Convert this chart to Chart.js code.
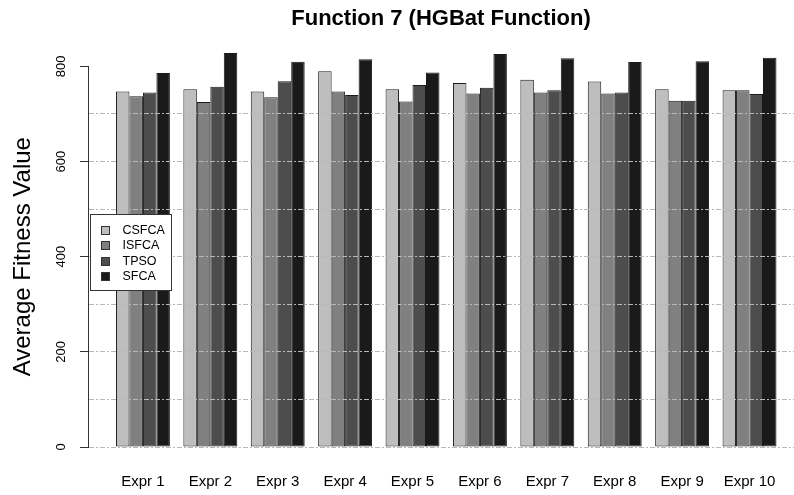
<!DOCTYPE html>
<html>
<head>
<meta charset="utf-8">
<script src="https://cdn.jsdelivr.net/npm/chart.js@4.4.1/dist/chart.umd.min.js"></script>
<style>
  html, body { margin: 0; padding: 0; background: #fff; }
  #wrap { width: 794px; height: 495px; position: relative; }
</style>
</head>
<body>
<div id="wrap"><canvas id="chart"></canvas></div>
<script>
// data
const categories = ['Expr 1', 'Expr 2', 'Expr 3', 'Expr 4', 'Expr 5', 'Expr 6', 'Expr 7', 'Expr 8', 'Expr 9', 'Expr 10'];
const seriesNames = ['CSFCA', 'ISFCA', 'TPSO', 'SFCA'];
const seriesColors = ['#bebebe', '#808080', '#4d4d4d', '#1a1a1a'];
const csfca = [747, 752, 747, 790, 752, 765, 772, 768, 752, 750];
const isfca = [737, 725, 735, 747, 726, 743, 745, 743, 728, 750];
const tpso  = [745, 757, 769, 740, 761, 755, 750, 745, 728, 742];
const sfca  = [786, 828, 810, 815, 787, 826, 817, 809, 811, 818];
const gridTicks = [0, 100, 200, 300, 400, 500, 600, 700, 800];
const labelTicks = [0, 200, 400, 600, 800];

const allSeries = [csfca, isfca, tpso, sfca];

Chart.defaults.font.family = '"Liberation Sans", Arial, Helvetica, sans-serif';
Chart.defaults.color = '#000';

// R style legend box drawn on top of the bars
const legendBox = {
  id: 'legendBox',
  afterDraw(chart) {
    const ctx = chart.ctx;
    ctx.save();
    ctx.fillStyle = '#fff';
    ctx.fillRect(90, 214, 81, 76);
    ctx.strokeStyle = '#333';
    ctx.lineWidth = 1;
    ctx.strokeRect(90.5, 214.5, 81, 76);
    ctx.font = '12.5px "Liberation Sans", Arial, sans-serif';
    ctx.textBaseline = 'middle';
    chart.data.datasets.forEach((ds, i) => {
      const y = Math.round(230 + i * 15.3);
      ctx.fillStyle = ds.backgroundColor;
      ctx.fillRect(101, y - 4, 9, 9);
      ctx.strokeStyle = '#333';
      ctx.strokeRect(101.5, y - 3.5, 8, 8);
      ctx.fillStyle = '#000';
      ctx.fillText(ds.label, 122.5, y + 0.5);
    });
    ctx.restore();
  }
};

new Chart(document.getElementById('chart'), {
  type: 'bar',
  data: {
    datasets: seriesNames.map((name, k) => ({
      label: name,
      data: allSeries[k].map((v, i) => ({ x: i + 1, y: v })),
      backgroundColor: seriesColors[k],
      borderColor: '#1a1a1a',
      borderWidth: 1,
      borderSkipped: false,
      clip: false,
      categoryPercentage: 0.8,
      barPercentage: 1.0
    }))
  },
  options: {
    responsive: true,
    maintainAspectRatio: false,
    devicePixelRatio: 1,
    animation: false,
    layout: { padding: { left: 0, right: 0, top: 0, bottom: 4 } },
    plugins: {
      legend: { display: false },
      tooltip: { enabled: false },
      title: {
        display: true,
        text: 'Function 7 (HGBat Function)',
        fullSize: false,
        font: { size: 22, weight: 'bold' },
        color: '#000',
        padding: { top: 6, bottom: 34 }
      }
    },
    scales: {
      x: {
        type: 'linear',
        offset: false,
        min: 0.185,
        max: 10.66,
        afterBuildTicks: s => { s.ticks = categories.map((c, i) => ({ value: i + 1 })); },
        grid: { display: true, offset: false, drawOnChartArea: false, drawTicks: true, tickLength: 26, tickColor: 'rgba(0,0,0,0)' },
        border: { display: false },
        ticks: {
          autoSkip: false,
          maxRotation: 0,
          padding: 0,
          font: { size: 15 },
          color: '#000',
          callback: v => categories[v - 1]
        }
      },
      y: {
        min: 0,
        max: 800,
        afterBuildTicks: s => { s.ticks = gridTicks.map(v => ({ value: v })); },
        afterFit: s => { s.width = 88; },
        grid: {
          z: 1,
          color: c => (c.tick && c.tick.value < 800) ? '#b8b8b8' : 'rgba(0,0,0,0)',
          tickColor: c => (c.tick && labelTicks.includes(c.tick.value)) ? '#333' : 'rgba(0,0,0,0)',
          tickLength: 8,
          lineWidth: 1
        },
        border: { display: true, z: 1, color: '#333', width: 1, dash: [5, 2, 2, 2] },
        ticks: {
          minRotation: 90,
          maxRotation: 90,
          crossAlign: 'center',
          padding: 8,
          font: { size: 13 },
          color: '#000',
          callback: v => labelTicks.includes(v) ? String(v) : ''
        },
        title: {
          display: true,
          text: 'Average Fitness Value',
          font: { size: 24 },
          color: '#000',
          padding: { top: 9, bottom: 0 }
        }
      }
    }
  },
  plugins: [legendBox]
});
</script>
</body>
</html>
